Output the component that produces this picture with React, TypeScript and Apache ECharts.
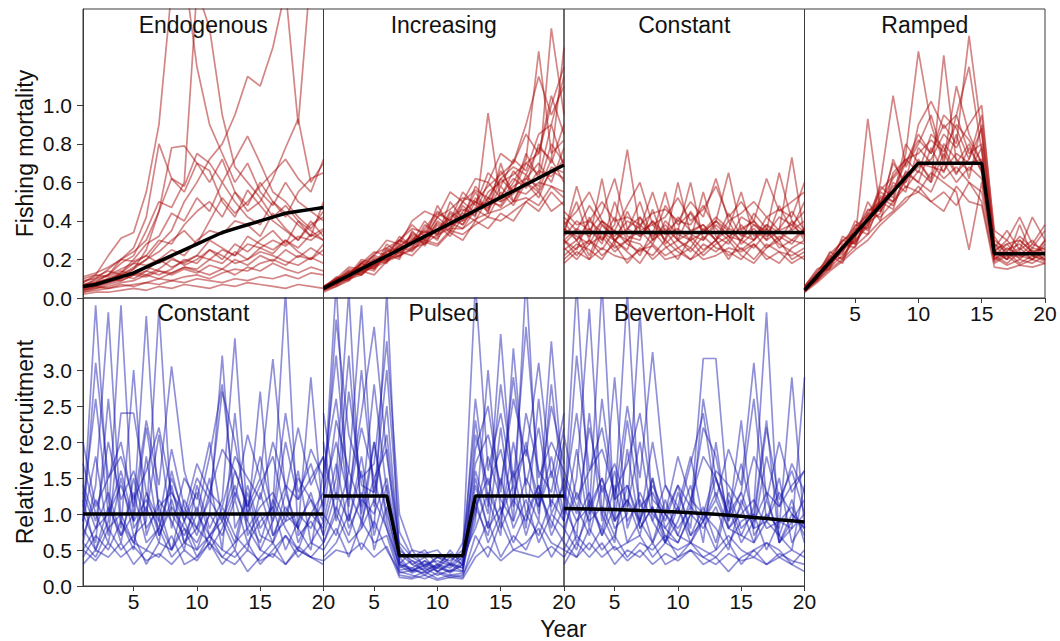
import React, { useEffect, useRef } from "react";
import * as echarts from "echarts";

const years = [1, 2, 3, 4, 5, 6, 7, 8, 9, 10, 11, 12, 13, 14, 15, 16, 17, 18, 19, 20];

const fTicks = [0, 0.2, 0.4, 0.6, 0.8, 1.0];
const rTicks = [0, 0.5, 1.0, 1.5, 2.0, 2.5, 3.0];
const xTicks = [5, 10, 15, 20];

const titlesTop = ["Endogenous", "Increasing", "Constant", "Ramped"];
const titlesBottom = ["Constant", "Pulsed", "Beverton-Holt"];

// ---- Fishing mortality: Endogenous ----
const endoMean = [0.06, 0.07, 0.09, 0.11, 0.13, 0.16, 0.19, 0.22, 0.25, 0.28, 0.31, 0.34, 0.36, 0.38, 0.4, 0.42, 0.44, 0.45, 0.46, 0.47];
const endoLines = [
  [0.08, 0.12, 0.22, 0.31, 0.34, 0.55, 0.9, 1.6, 1.7, 1.2, 0.9, 0.75, 0.6, 0.7, 0.55, 0.48, 0.6, 0.5, 0.45, 0.4],
  [0.05, 0.07, 0.09, 0.12, 0.15, 0.2, 0.28, 0.35, 0.5, 0.6, 0.72, 0.8, 0.95, 1.15, 1.1, 1.3, 1.6, 0.9, 1.7, 1.6],
  [0.06, 0.1, 0.15, 0.2, 0.26, 0.42, 0.8, 0.62, 0.58, 0.75, 0.7, 0.6, 0.72, 0.84, 0.7, 0.55, 0.5, 0.42, 0.36, 0.45],
  [0.04, 0.06, 0.08, 0.1, 0.15, 0.25, 0.45, 0.78, 0.79, 0.7, 0.6, 0.72, 0.55, 0.45, 0.5, 0.62, 0.78, 0.93, 0.6, 0.7],
  [0.07, 0.09, 0.12, 0.18, 0.22, 0.35, 0.5, 0.47, 0.6, 1.6, 1.4, 0.95, 0.68, 0.6, 0.52, 0.42, 0.48, 0.4, 0.35, 0.3],
  [0.03, 0.04, 0.05, 0.06, 0.07, 0.08, 0.1, 0.09, 0.11, 0.12, 0.1, 0.13, 0.15, 0.14, 0.18, 0.2, 0.17, 0.22, 0.2, 0.25],
  [0.09, 0.1, 0.12, 0.15, 0.18, 0.17, 0.2, 0.16, 0.19, 0.22, 0.2, 0.25, 0.22, 0.28, 0.26, 0.3, 0.27, 0.32, 0.3, 0.35],
  [0.05, 0.06, 0.05, 0.07, 0.06, 0.08, 0.07, 0.09, 0.08, 0.1, 0.09, 0.08, 0.1, 0.09, 0.11, 0.1, 0.12, 0.1, 0.13, 0.12],
  [0.06, 0.08, 0.1, 0.13, 0.18, 0.22, 0.3, 0.28, 0.38, 0.45, 0.5, 0.42, 0.55, 0.48, 0.6, 0.5, 0.42, 0.55, 0.62, 0.65],
  [0.11, 0.13, 0.16, 0.2, 0.19, 0.22, 0.18, 0.21, 0.17, 0.2, 0.25, 0.22, 0.18, 0.2, 0.24, 0.22, 0.19, 0.17, 0.21, 0.18],
  [0.04, 0.05, 0.07, 0.09, 0.12, 0.14, 0.2, 0.25, 0.22, 0.3, 0.35, 0.33, 0.4, 0.38, 0.32, 0.44, 0.36, 0.3, 0.38, 0.42],
  [0.02, 0.03, 0.03, 0.04, 0.05, 0.04, 0.06, 0.05, 0.07, 0.06, 0.05, 0.07, 0.06, 0.08, 0.07, 0.06, 0.05, 0.07, 0.06, 0.05],
  [0.08, 0.11, 0.14, 0.12, 0.16, 0.2, 0.24, 0.3, 0.35, 0.28, 0.4, 0.52, 0.44, 0.5, 0.58, 0.65, 0.72, 0.62, 0.55, 0.72],
  [0.05, 0.07, 0.1, 0.12, 0.1, 0.14, 0.12, 0.15, 0.2, 0.18, 0.25, 0.2, 0.28, 0.24, 0.3, 0.35, 0.28, 0.4, 0.32, 0.36],
  [0.1, 0.12, 0.11, 0.14, 0.12, 0.16, 0.14, 0.12, 0.15, 0.13, 0.17, 0.15, 0.12, 0.16, 0.14, 0.18, 0.15, 0.13, 0.16, 0.14],
  [0.06, 0.08, 0.12, 0.2, 0.24, 0.3, 0.45, 0.62, 0.55, 0.7, 0.66, 0.5, 0.42, 0.56, 0.48, 0.4, 0.35, 0.3, 0.4, 0.32],
  [0.04, 0.06, 0.08, 0.1, 0.13, 0.12, 0.15, 0.2, 0.18, 0.22, 0.3, 0.26, 0.22, 0.32, 0.28, 0.25, 0.3, 0.24, 0.2, 0.28],
  [0.03, 0.05, 0.06, 0.08, 0.09, 0.12, 0.1, 0.13, 0.16, 0.14, 0.12, 0.15, 0.2, 0.17, 0.22, 0.19, 0.25, 0.21, 0.26, 0.22],
  [0.07, 0.08, 0.1, 0.09, 0.12, 0.11, 0.14, 0.13, 0.16, 0.15, 0.2, 0.18, 0.24, 0.2, 0.26, 0.23, 0.3, 0.26, 0.33, 0.3],
  [0.05, 0.07, 0.09, 0.13, 0.2, 0.28, 0.32, 0.44, 0.4, 0.52, 0.45, 0.6, 0.5, 0.42, 0.38, 0.5, 0.44, 0.38, 0.32, 0.5],
];

// ---- Fishing mortality: Increasing ----
const incMean = [0.05, 0.084, 0.117, 0.151, 0.185, 0.218, 0.252, 0.286, 0.32, 0.353, 0.387, 0.42, 0.454, 0.488, 0.522, 0.555, 0.589, 0.623, 0.657, 0.69];
const incLines = [
  [0.05, 0.1, 0.09, 0.18, 0.15, 0.26, 0.22, 0.34, 0.3, 0.42, 0.36, 0.5, 0.44, 0.6, 0.52, 0.66, 0.58, 0.8, 0.7, 0.9],
  [0.04, 0.07, 0.13, 0.12, 0.2, 0.18, 0.3, 0.26, 0.38, 0.33, 0.45, 0.4, 0.52, 0.46, 0.62, 0.55, 0.7, 0.64, 1.4, 0.95],
  [0.06, 0.09, 0.11, 0.16, 0.22, 0.2, 0.27, 0.32, 0.28, 0.4, 0.35, 0.48, 0.42, 0.96, 0.5, 0.6, 0.72, 1.28, 0.75, 0.82],
  [0.05, 0.08, 0.14, 0.13, 0.17, 0.25, 0.21, 0.3, 0.35, 0.3, 0.44, 0.38, 0.5, 0.45, 0.58, 0.5, 0.64, 0.56, 0.72, 0.6],
  [0.03, 0.06, 0.1, 0.14, 0.12, 0.19, 0.24, 0.22, 0.29, 0.27, 0.34, 0.3, 0.4, 0.36, 0.44, 0.4, 0.5, 0.45, 0.55, 0.48],
  [0.06, 0.1, 0.12, 0.2, 0.18, 0.24, 0.3, 0.28, 0.36, 0.45, 0.4, 0.55, 0.48, 0.65, 0.58, 0.72, 0.66, 0.85, 0.9, 1.15],
  [0.05, 0.09, 0.15, 0.14, 0.21, 0.19, 0.28, 0.25, 0.33, 0.31, 0.39, 0.36, 0.46, 0.42, 0.55, 0.48, 0.6, 0.55, 0.66, 0.62],
  [0.04, 0.08, 0.1, 0.17, 0.15, 0.23, 0.2, 0.35, 0.27, 0.38, 0.32, 0.42, 0.55, 0.44, 0.7, 0.5, 0.62, 0.58, 0.8, 0.7],
  [0.06, 0.07, 0.12, 0.15, 0.2, 0.22, 0.25, 0.3, 0.34, 0.35, 0.41, 0.38, 0.47, 0.5, 0.48, 0.58, 0.62, 0.7, 0.6, 0.78],
  [0.05, 0.11, 0.1, 0.19, 0.17, 0.21, 0.32, 0.27, 0.31, 0.48, 0.37, 0.44, 0.4, 0.52, 0.47, 0.56, 0.54, 0.6, 0.58, 0.55],
  [0.04, 0.07, 0.11, 0.13, 0.19, 0.2, 0.24, 0.31, 0.29, 0.36, 0.42, 0.46, 0.43, 0.55, 0.6, 0.64, 0.7, 0.75, 1.05, 0.85],
  [0.05, 0.09, 0.13, 0.16, 0.14, 0.24, 0.26, 0.33, 0.3, 0.39, 0.34, 0.45, 0.5, 0.47, 0.53, 0.62, 0.57, 0.66, 0.63, 0.72],
  [0.05, 0.08, 0.12, 0.18, 0.16, 0.28, 0.23, 0.29, 0.4, 0.32, 0.5, 0.41, 0.58, 0.5, 0.66, 0.55, 0.75, 0.62, 0.9, 0.68],
  [0.06, 0.09, 0.14, 0.12, 0.18, 0.21, 0.27, 0.24, 0.32, 0.34, 0.38, 0.4, 0.45, 0.52, 0.5, 0.54, 0.6, 0.52, 0.68, 0.65],
  [0.04, 0.06, 0.09, 0.14, 0.16, 0.19, 0.22, 0.26, 0.28, 0.33, 0.36, 0.36, 0.41, 0.44, 0.46, 0.5, 0.52, 0.48, 0.58, 0.52],
  [0.05, 0.1, 0.16, 0.15, 0.23, 0.26, 0.3, 0.38, 0.32, 0.42, 0.46, 0.52, 0.5, 0.58, 0.64, 0.7, 0.85, 0.75, 1.0, 1.2],
  [0.04, 0.08, 0.12, 0.18, 0.22, 0.3, 0.28, 0.4, 0.45, 0.42, 0.55, 0.5, 0.62, 0.6, 0.75, 0.7, 0.9, 1.15, 0.95, 1.1],
  [0.05, 0.07, 0.1, 0.12, 0.17, 0.2, 0.22, 0.25, 0.3, 0.28, 0.35, 0.33, 0.38, 0.42, 0.4, 0.45, 0.5, 0.55, 0.45, 0.5],
  [0.06, 0.1, 0.13, 0.18, 0.24, 0.22, 0.3, 0.36, 0.34, 0.44, 0.4, 0.5, 0.56, 0.52, 0.62, 0.68, 0.64, 0.78, 0.72, 1.3],
];

// ---- Fishing mortality: Constant ----
const constFMean = [0.34, 0.34, 0.34, 0.34, 0.34, 0.34, 0.34, 0.34, 0.34, 0.34, 0.34, 0.34, 0.34, 0.34, 0.34, 0.34, 0.34, 0.34, 0.34, 0.34];
const constFLines = [
  [0.35, 0.5, 0.3, 0.62, 0.28, 0.45, 0.32, 0.4, 0.3, 0.42, 0.35, 0.38, 0.3, 0.44, 0.32, 0.36, 0.3, 0.48, 0.35, 0.4],
  [0.3, 0.25, 0.42, 0.3, 0.38, 0.77, 0.35, 0.28, 0.4, 0.33, 0.3, 0.55, 0.32, 0.28, 0.38, 0.3, 0.42, 0.35, 0.73, 0.32],
  [0.28, 0.35, 0.22, 0.38, 0.3, 0.25, 0.42, 0.33, 0.55, 0.3, 0.26, 0.36, 0.3, 0.4, 0.28, 0.34, 0.26, 0.32, 0.28, 0.36],
  [0.4, 0.3, 0.36, 0.28, 0.5, 0.32, 0.3, 0.46, 0.28, 0.35, 0.6, 0.3, 0.38, 0.32, 0.3, 0.44, 0.36, 0.3, 0.4, 0.3],
  [0.22, 0.28, 0.25, 0.2, 0.3, 0.24, 0.18, 0.28, 0.22, 0.26, 0.2, 0.24, 0.3, 0.22, 0.26, 0.2, 0.28, 0.24, 0.22, 0.26],
  [0.38, 0.45, 0.55, 0.4, 0.35, 0.48, 0.6, 0.38, 0.42, 0.52, 0.4, 0.46, 0.58, 0.42, 0.5, 0.4, 0.62, 0.45, 0.5, 0.55],
  [0.25, 0.3, 0.2, 0.34, 0.26, 0.3, 0.22, 0.35, 0.27, 0.2, 0.32, 0.25, 0.3, 0.2, 0.3, 0.26, 0.34, 0.28, 0.24, 0.2],
  [0.32, 0.4, 0.35, 0.44, 0.62, 0.36, 0.42, 0.3, 0.48, 0.38, 0.44, 0.34, 0.4, 0.65, 0.35, 0.4, 0.33, 0.42, 0.38, 0.45],
  [0.3, 0.22, 0.3, 0.25, 0.35, 0.28, 0.24, 0.3, 0.35, 0.26, 0.3, 0.22, 0.28, 0.32, 0.25, 0.3, 0.36, 0.26, 0.3, 0.28],
  [0.42, 0.35, 0.48, 0.38, 0.32, 0.4, 0.36, 0.55, 0.34, 0.4, 0.38, 0.48, 0.36, 0.3, 0.42, 0.38, 0.35, 0.65, 0.4, 0.34],
  [0.2, 0.26, 0.3, 0.22, 0.28, 0.18, 0.26, 0.22, 0.3, 0.24, 0.2, 0.28, 0.24, 0.3, 0.22, 0.18, 0.26, 0.3, 0.2, 0.24],
  [0.36, 0.32, 0.28, 0.4, 0.3, 0.35, 0.5, 0.3, 0.38, 0.3, 0.45, 0.35, 0.42, 0.36, 0.55, 0.32, 0.38, 0.3, 0.36, 0.5],
  [0.33, 0.58, 0.36, 0.3, 0.42, 0.3, 0.35, 0.38, 0.3, 0.6, 0.33, 0.3, 0.4, 0.35, 0.3, 0.38, 0.32, 0.36, 0.45, 0.35],
  [0.26, 0.2, 0.28, 0.32, 0.24, 0.3, 0.28, 0.2, 0.26, 0.3, 0.24, 0.32, 0.26, 0.24, 0.2, 0.28, 0.22, 0.18, 0.26, 0.3],
  [0.45, 0.38, 0.4, 0.5, 0.4, 0.42, 0.38, 0.44, 0.46, 0.4, 0.5, 0.42, 0.62, 0.4, 0.44, 0.5, 0.42, 0.46, 0.42, 0.6],
  [0.18, 0.24, 0.2, 0.26, 0.22, 0.2, 0.25, 0.27, 0.2, 0.22, 0.26, 0.2, 0.22, 0.26, 0.24, 0.28, 0.2, 0.24, 0.18, 0.22],
  [0.3, 0.36, 0.32, 0.4, 0.34, 0.3, 0.38, 0.32, 0.36, 0.3, 0.34, 0.38, 0.3, 0.36, 0.33, 0.3, 0.38, 0.34, 0.3, 0.36],
  [0.36, 0.3, 0.4, 0.34, 0.3, 0.36, 0.32, 0.4, 0.33, 0.36, 0.3, 0.34, 0.4, 0.32, 0.36, 0.4, 0.3, 0.35, 0.38, 0.32],
];

// ---- Fishing mortality: Ramped ----
const rampMean = [0.04, 0.113, 0.187, 0.26, 0.333, 0.407, 0.48, 0.553, 0.627, 0.7, 0.7, 0.7, 0.7, 0.7, 0.7, 0.23, 0.23, 0.23, 0.23, 0.23];
const rampLines = [
  [0.05, 0.12, 0.2, 0.3, 0.28, 0.42, 0.5, 0.62, 0.7, 0.85, 0.75, 0.9, 0.8, 1.36, 0.85, 0.3, 0.25, 0.28, 0.22, 0.3],
  [0.04, 0.1, 0.22, 0.18, 0.35, 0.4, 0.55, 0.5, 0.75, 1.28, 0.9, 0.7, 0.95, 0.75, 0.8, 0.25, 0.2, 0.3, 0.24, 0.2],
  [0.06, 0.15, 0.18, 0.25, 0.4, 0.35, 0.48, 0.7, 0.6, 0.72, 0.6, 1.26, 0.7, 0.8, 0.65, 0.22, 0.28, 0.2, 0.26, 0.24],
  [0.03, 0.09, 0.16, 0.22, 0.3, 0.93, 0.45, 0.55, 0.65, 0.6, 0.78, 0.65, 0.85, 0.62, 0.9, 0.28, 0.2, 0.25, 0.3, 0.22],
  [0.05, 0.11, 0.24, 0.2, 0.32, 0.38, 0.6, 1.05, 0.68, 0.8, 0.95, 0.72, 1.1, 0.85, 0.7, 0.24, 0.3, 0.22, 0.2, 0.28],
  [0.04, 0.13, 0.15, 0.28, 0.26, 0.44, 0.42, 0.5, 0.58, 0.55, 0.65, 0.6, 0.55, 0.25, 0.6, 0.2, 0.24, 0.18, 0.22, 0.2],
  [0.05, 0.1, 0.19, 0.24, 0.36, 0.33, 0.52, 0.48, 0.62, 0.68, 0.72, 0.85, 0.78, 0.9, 1.0, 0.32, 0.22, 0.26, 0.2, 0.24],
  [0.06, 0.14, 0.21, 0.3, 0.34, 0.46, 0.45, 0.6, 0.55, 0.78, 0.7, 0.62, 0.68, 0.6, 0.55, 0.2, 0.26, 0.22, 0.28, 0.25],
  [0.03, 0.08, 0.14, 0.19, 0.25, 0.3, 0.38, 0.44, 0.5, 0.58, 0.5, 0.55, 0.48, 0.6, 0.5, 0.18, 0.22, 0.17, 0.2, 0.18],
  [0.05, 0.12, 0.17, 0.26, 0.31, 0.5, 0.4, 0.65, 0.72, 0.65, 0.85, 0.78, 0.65, 0.72, 0.88, 0.26, 0.35, 0.25, 0.42, 0.3],
  [0.04, 0.11, 0.2, 0.23, 0.38, 0.36, 0.58, 0.52, 0.8, 0.7, 0.62, 0.8, 0.72, 0.66, 0.78, 0.22, 0.18, 0.24, 0.2, 0.3],
  [0.05, 0.09, 0.18, 0.27, 0.29, 0.4, 0.47, 0.58, 0.6, 0.9, 1.02, 0.88, 0.95, 1.2, 0.76, 0.28, 0.24, 0.32, 0.26, 0.35],
  [0.04, 0.1, 0.2, 0.21, 0.33, 0.45, 0.5, 0.46, 0.66, 0.6, 0.55, 0.7, 0.6, 0.68, 0.62, 0.21, 0.17, 0.2, 0.18, 0.22],
  [0.06, 0.13, 0.23, 0.29, 0.37, 0.43, 0.56, 0.63, 0.72, 0.75, 0.82, 0.76, 0.9, 0.82, 0.7, 0.25, 0.28, 0.3, 0.24, 0.26],
  [0.05, 0.12, 0.16, 0.32, 0.28, 0.39, 0.44, 0.72, 0.57, 0.66, 0.6, 0.75, 0.64, 0.78, 0.66, 0.24, 0.2, 0.38, 0.22, 0.19],
  [0.04, 0.1, 0.17, 0.25, 0.3, 0.37, 0.53, 0.5, 0.62, 0.7, 0.68, 0.66, 0.75, 0.7, 0.72, 0.19, 0.23, 0.21, 0.25, 0.2],
  [0.05, 0.11, 0.2, 0.27, 0.35, 0.42, 0.5, 0.56, 0.7, 0.82, 0.75, 0.95, 0.88, 0.72, 0.95, 0.35, 0.3, 0.42, 0.28, 0.38],
  [0.04, 0.09, 0.15, 0.2, 0.27, 0.33, 0.4, 0.45, 0.52, 0.55, 0.5, 0.45, 0.58, 0.5, 0.48, 0.16, 0.15, 0.17, 0.16, 0.18],
];

// ---- Relative recruitment: Constant ----
const constRMean = [1, 1, 1, 1, 1, 1, 1, 1, 1, 1, 1, 1, 1, 1, 1, 1, 1, 1, 1, 1];
const constRLines = [
  [0.9, 3.9, 1.2, 0.6, 1.5, 0.8, 1.1, 0.5, 0.9, 1.3, 0.7, 1.0, 0.6, 1.4, 0.8, 1.1, 0.5, 0.9, 1.2, 0.7],
  [0.6, 1.4, 3.8, 0.9, 0.5, 1.8, 0.7, 1.2, 0.6, 0.8, 1.5, 0.5, 2.4, 0.7, 1.0, 0.6, 1.3, 0.8, 0.5, 1.6],
  [1.2, 0.5, 0.9, 3.9, 0.8, 1.1, 0.6, 1.6, 0.9, 0.5, 1.0, 3.2, 0.8, 1.2, 0.5, 0.9, 1.4, 0.6, 1.0, 0.8],
  [0.5, 0.8, 1.3, 0.7, 1.0, 3.75, 0.9, 0.5, 1.2, 0.8, 0.6, 1.1, 0.7, 0.5, 1.3, 0.7, 0.9, 1.6, 0.6, 0.9],
  [1.7, 1.0, 0.6, 1.5, 0.7, 0.9, 3.85, 1.0, 0.7, 1.1, 0.5, 0.8, 1.3, 0.9, 0.6, 1.2, 0.8, 0.5, 1.0, 1.3],
  [0.4, 0.7, 0.5, 0.9, 0.6, 0.5, 0.8, 0.4, 0.6, 0.5, 0.7, 0.4, 0.6, 0.8, 0.5, 0.4, 0.7, 0.5, 0.4, 0.6],
  [0.8, 3.1, 1.5, 2.0, 1.1, 2.3, 1.4, 3.05, 1.6, 1.0, 1.8, 2.8, 1.2, 2.1, 1.5, 3.15, 1.3, 2.2, 1.4, 1.8],
  [1.0, 0.6, 2.6, 0.8, 3.0, 0.7, 1.2, 0.9, 0.5, 1.4, 0.8, 1.2, 3.44, 0.9, 2.7, 0.7, 1.1, 0.8, 2.9, 0.9],
  [0.7, 1.2, 0.8, 1.0, 0.6, 1.3, 0.7, 1.1, 0.8, 0.6, 1.0, 0.7, 1.2, 0.6, 0.9, 1.1, 4.1, 0.7, 0.9, 0.6],
  [1.4, 0.9, 2.0, 1.2, 1.6, 1.0, 2.1, 0.8, 1.5, 1.2, 2.0, 0.9, 1.6, 1.1, 1.8, 1.0, 2.4, 1.3, 1.7, 1.1],
  [0.3, 0.5, 0.4, 0.6, 0.3, 0.5, 0.4, 0.7, 0.3, 0.4, 0.6, 0.3, 0.5, 0.2, 0.4, 0.6, 0.3, 0.5, 0.4, 0.3],
  [0.9, 1.8, 0.7, 2.4, 2.4, 1.3, 0.9, 1.9, 1.1, 0.7, 1.3, 1.9, 1.6, 1.1, 1.5, 0.9, 2.0, 1.2, 1.5, 1.8],
  [0.6, 0.4, 0.8, 0.5, 0.7, 0.3, 0.6, 0.5, 0.8, 0.4, 0.7, 0.5, 0.4, 0.6, 0.3, 0.5, 0.7, 0.4, 0.6, 0.5],
  [1.1, 2.6, 1.0, 1.4, 0.9, 2.2, 1.1, 1.3, 0.9, 1.5, 1.2, 2.7, 2.0, 1.0, 1.4, 1.8, 1.0, 1.5, 1.2, 0.9],
  [0.8, 0.5, 1.1, 0.7, 1.3, 0.6, 0.8, 1.4, 0.6, 1.0, 0.7, 0.9, 0.5, 1.3, 0.7, 0.6, 1.0, 0.8, 1.3, 0.7],
  [2.0, 1.1, 1.5, 1.8, 1.2, 1.6, 2.2, 1.3, 1.0, 1.7, 1.3, 1.1, 1.8, 1.5, 1.2, 2.0, 1.4, 1.2, 1.9, 1.5],
  [0.5, 0.35, 0.6, 0.4, 0.55, 0.35, 0.45, 0.3, 0.5, 0.35, 0.6, 0.4, 0.3, 0.5, 0.35, 0.45, 0.3, 0.55, 0.4, 0.35],
  [1.3, 0.8, 1.0, 1.6, 0.9, 1.2, 0.8, 1.5, 1.0, 0.8, 1.2, 0.9, 1.4, 0.8, 1.1, 1.3, 0.9, 1.0, 0.8, 1.2],
];

// ---- Relative recruitment: Pulsed ----
const pulsedMean = [1.25, 1.25, 1.25, 1.25, 1.25, 1.25, 0.42, 0.42, 0.42, 0.42, 0.42, 0.42, 1.25, 1.25, 1.25, 1.25, 1.25, 1.25, 1.25, 1.25];
const pulsedLines = [
  [1.2, 4.2, 0.9, 1.8, 0.7, 1.4, 0.3, 0.25, 0.35, 0.2, 0.3, 0.25, 1.5, 0.8, 2.2, 0.9, 4.3, 1.1, 1.6, 0.9],
  [0.8, 1.5, 4.1, 0.8, 2.0, 1.0, 0.35, 0.2, 0.3, 0.25, 0.4, 0.3, 0.9, 3.0, 1.0, 1.6, 0.8, 2.6, 1.0, 1.4],
  [2.0, 0.9, 1.6, 3.9, 1.1, 2.5, 0.45, 0.3, 0.22, 0.3, 0.2, 0.35, 2.6, 1.2, 0.7, 3.3, 1.3, 0.9, 2.8, 1.2],
  [0.6, 1.1, 0.7, 1.3, 0.8, 4.1, 0.28, 0.18, 0.25, 0.15, 0.22, 0.2, 1.1, 0.7, 1.5, 0.8, 1.2, 0.6, 1.0, 0.8],
  [1.5, 3.2, 1.3, 2.4, 3.6, 1.8, 0.6, 0.4, 0.3, 0.35, 0.28, 0.45, 4.2, 1.6, 2.4, 1.4, 3.6, 1.5, 2.0, 1.6],
  [0.5, 0.8, 0.4, 0.9, 0.6, 0.7, 0.15, 0.12, 0.2, 0.1, 0.15, 0.12, 0.7, 0.4, 0.9, 0.5, 0.6, 0.8, 0.4, 0.7],
  [1.0, 2.3, 1.6, 1.1, 2.8, 1.3, 0.55, 0.3, 0.4, 0.2, 0.32, 0.25, 1.9, 2.5, 1.3, 2.9, 1.4, 2.2, 1.1, 2.0],
  [0.7, 1.3, 0.9, 1.6, 0.5, 1.1, 0.22, 0.25, 0.15, 0.28, 0.18, 0.3, 1.2, 0.6, 1.0, 1.4, 0.7, 1.3, 0.9, 0.6],
  [1.8, 1.0, 2.7, 1.4, 1.3, 3.0, 0.75, 0.4, 0.5, 0.3, 0.45, 0.35, 1.6, 1.0, 3.5, 1.2, 2.0, 1.0, 3.4, 1.3],
  [0.4, 0.6, 1.0, 0.5, 0.9, 0.5, 0.2, 0.15, 0.1, 0.18, 0.12, 0.15, 0.5, 0.9, 0.4, 0.7, 0.5, 0.9, 0.6, 0.5],
  [1.3, 2.0, 1.2, 2.2, 1.5, 1.9, 0.3, 0.5, 0.25, 0.4, 0.3, 0.2, 2.1, 1.4, 1.9, 1.1, 2.4, 1.6, 1.3, 2.2],
  [0.9, 1.7, 0.8, 1.2, 1.0, 1.5, 0.4, 0.2, 0.35, 0.25, 0.5, 0.28, 1.0, 1.8, 1.2, 0.9, 1.5, 1.1, 1.8, 1.0],
  [2.4, 1.2, 3.2, 1.0, 2.0, 0.9, 0.25, 0.35, 0.2, 0.3, 0.25, 0.4, 0.8, 1.3, 0.9, 2.0, 1.0, 1.4, 0.8, 1.5],
  [0.6, 1.0, 0.6, 0.8, 1.2, 0.8, 0.18, 0.22, 0.28, 0.2, 0.15, 0.18, 1.4, 0.8, 1.1, 0.6, 1.0, 0.7, 1.2, 0.9],
  [1.1, 3.7, 2.1, 1.5, 1.7, 3.4, 1.0, 0.5, 0.45, 0.5, 0.3, 0.6, 1.7, 2.1, 1.4, 2.6, 1.8, 3.1, 1.5, 2.4],
  [0.35, 0.5, 0.45, 0.6, 0.4, 0.55, 0.12, 0.1, 0.15, 0.08, 0.12, 0.1, 0.4, 0.55, 0.35, 0.5, 0.45, 0.4, 0.55, 0.4],
  [1.0, 0.7, 1.3, 0.9, 1.5, 0.8, 0.3, 0.22, 0.18, 0.25, 0.2, 0.3, 1.1, 1.5, 0.8, 1.2, 0.9, 1.4, 0.7, 1.1],
  [1.6, 2.6, 1.1, 3.0, 1.3, 2.1, 0.5, 0.35, 0.28, 0.4, 0.35, 0.5, 2.3, 1.1, 2.8, 1.5, 1.9, 1.2, 2.5, 1.7],
];

// ---- Relative recruitment: Beverton-Holt ----
const bhMean = [1.075, 1.073, 1.07, 1.066, 1.062, 1.057, 1.05, 1.044, 1.036, 1.028, 1.018, 1.007, 0.995, 0.982, 0.968, 0.953, 0.937, 0.92, 0.905, 0.89];
const bhLines = [
  [1.0, 4.2, 1.1, 0.8, 1.6, 0.9, 1.2, 0.6, 1.0, 1.4, 0.7, 1.1, 0.6, 1.3, 0.8, 1.0, 0.5, 0.9, 1.1, 0.7],
  [0.7, 1.5, 3.85, 1.0, 0.6, 1.9, 0.8, 1.1, 0.6, 0.9, 1.4, 0.6, 2.0, 0.8, 1.1, 0.6, 1.2, 0.7, 0.5, 1.4],
  [1.3, 0.6, 1.0, 4.2, 0.9, 1.2, 0.7, 1.5, 0.8, 0.6, 1.0, 3.16, 3.16, 1.1, 0.6, 0.9, 1.3, 0.6, 1.0, 0.8],
  [0.5, 0.9, 1.3, 0.7, 1.1, 4.1, 0.9, 0.6, 1.2, 0.7, 0.6, 1.0, 0.8, 0.5, 1.2, 0.8, 0.9, 1.5, 0.6, 0.9],
  [1.6, 1.1, 0.7, 1.4, 0.8, 1.0, 3.8, 1.0, 0.8, 1.1, 0.6, 0.9, 1.2, 0.8, 0.7, 1.1, 3.8, 0.6, 0.9, 1.2],
  [0.4, 0.7, 0.5, 0.8, 0.5, 0.6, 0.7, 0.4, 0.6, 0.5, 0.6, 0.4, 0.5, 0.7, 0.5, 0.4, 0.6, 0.5, 0.3, 0.5],
  [0.9, 3.2, 1.6, 2.2, 1.2, 2.5, 1.5, 3.25, 1.4, 1.0, 1.7, 2.4, 1.2, 1.9, 1.4, 3.1, 1.2, 2.0, 1.3, 1.6],
  [1.1, 0.7, 2.4, 0.9, 2.9, 0.8, 1.3, 0.9, 0.6, 1.3, 0.8, 2.6, 1.5, 0.9, 2.3, 0.7, 1.0, 0.8, 2.9, 0.8],
  [0.8, 1.3, 0.9, 1.1, 0.7, 1.4, 0.8, 1.1, 0.7, 0.6, 1.0, 0.8, 1.1, 0.6, 0.9, 1.0, 2.3, 0.6, 0.8, 2.9],
  [1.5, 1.0, 2.2, 1.3, 1.7, 1.1, 2.0, 0.9, 1.4, 1.1, 1.8, 0.9, 1.5, 1.0, 1.7, 0.9, 2.2, 1.2, 1.6, 1.0],
  [0.3, 0.6, 0.4, 0.6, 0.3, 0.5, 0.4, 0.6, 0.3, 0.4, 0.5, 0.3, 0.4, 0.2, 0.4, 0.5, 0.3, 0.4, 0.3, 0.2],
  [0.9, 1.9, 0.8, 2.6, 1.2, 1.4, 0.9, 2.0, 1.0, 0.7, 1.2, 1.8, 1.5, 1.0, 1.3, 0.8, 1.8, 1.1, 1.4, 1.6],
  [0.6, 0.4, 0.8, 0.5, 0.7, 0.4, 0.6, 0.5, 0.7, 0.4, 0.6, 0.5, 0.4, 0.6, 0.3, 0.5, 0.6, 0.4, 0.5, 0.4],
  [1.2, 2.4, 1.0, 1.5, 0.9, 2.3, 1.1, 1.3, 0.9, 1.4, 1.1, 2.2, 1.8, 0.9, 1.3, 2.6, 0.9, 1.3, 1.0, 0.8],
  [0.8, 0.5, 1.2, 0.7, 1.4, 0.6, 0.9, 1.5, 0.6, 1.1, 0.7, 0.9, 0.5, 1.2, 0.7, 0.6, 0.9, 0.7, 1.2, 0.6],
  [2.1, 1.2, 1.6, 1.9, 1.3, 1.7, 2.4, 1.2, 1.0, 1.8, 1.2, 1.0, 1.6, 1.4, 1.1, 1.8, 1.3, 1.1, 1.7, 1.3],
  [0.5, 0.4, 0.6, 0.4, 0.55, 0.35, 0.5, 0.3, 0.45, 0.35, 0.5, 0.4, 0.3, 0.45, 0.35, 0.4, 0.3, 0.45, 0.35, 0.3],
  [1.3, 0.9, 1.1, 1.5, 0.9, 1.2, 0.9, 1.4, 1.0, 0.8, 1.1, 0.9, 1.3, 0.8, 1.0, 1.2, 0.8, 0.9, 0.8, 1.0],
];

const FONT = 'Arial, "Liberation Sans", Helvetica, sans-serif';
const RED = "rgba(170, 12, 12, 0.5)";
const BLUE = "rgba(24, 24, 175, 0.48)";

export default function App() {
  const ref = useRef<HTMLDivElement>(null);

  useEffect(() => {
    if (!ref.current) return;
    const chart = echarts.init(ref.current, null, { renderer: "svg" });

    const panelW = 240.5;
    const lefts = [83, 323.5, 564, 804.5];
    const topRow = { top: 9, height: 289 };
    const botRow = { top: 298, height: 288 };

    const panels = [
      { lines: endoLines, mean: endoMean, row: 0, col: 0, color: RED },
      { lines: incLines, mean: incMean, row: 0, col: 1, color: RED },
      { lines: constFLines, mean: constFMean, row: 0, col: 2, color: RED },
      { lines: rampLines, mean: rampMean, row: 0, col: 3, color: RED },
      { lines: constRLines, mean: constRMean, row: 1, col: 0, color: BLUE },
      { lines: pulsedLines, mean: pulsedMean, row: 1, col: 1, color: BLUE },
      { lines: bhLines, mean: bhMean, row: 1, col: 2, color: BLUE },
    ];

    const grids: any[] = [];
    const xAxes: any[] = [];
    const yAxes: any[] = [];
    const series: any[] = [];

    panels.forEach((p, i) => {
      const r = p.row === 0 ? topRow : botRow;
      grids.push({
        left: lefts[p.col],
        top: r.top,
        width: panelW,
        height: r.height,
        show: true,
        borderColor: "#3a3a3a",
        borderWidth: 1,
        backgroundColor: "transparent",
        containLabel: false,
      });
      const showX = p.row === 1 || p.col === 3;
      xAxes.push({
        gridIndex: i,
        type: "value",
        min: 1,
        max: 20,
        axisLine: { show: showX, lineStyle: { color: "#3a3a3a", width: 1 } },
        axisTick: {
          show: showX,
          length: 5,
          customValues: xTicks,
          lineStyle: { color: "#3a3a3a" },
        },
        axisLabel: {
          show: showX,
          customValues: xTicks,
          fontSize: 21,
          color: "#111",
          fontFamily: FONT,
          margin: 5,
          showMinLabel: true,
          showMaxLabel: true,
        },
        splitLine: { show: false },
      });
      const showY = p.col === 0;
      const ticks = p.row === 0 ? fTicks : rTicks;
      yAxes.push({
        gridIndex: i,
        type: "value",
        min: 0,
        max: p.row === 0 ? 1.5 : 4,
        axisLine: { show: showY, lineStyle: { color: "#3a3a3a", width: 1 } },
        axisTick: {
          show: showY,
          length: 6,
          customValues: ticks,
          lineStyle: { color: "#3a3a3a" },
        },
        axisLabel: {
          show: showY,
          customValues: ticks,
          formatter: (v: number) => v.toFixed(1),
          fontSize: 21,
          color: "#111",
          fontFamily: FONT,
          margin: 11,
        },
        splitLine: { show: false },
      });
      p.lines.forEach((ln) => {
        series.push({
          type: "line",
          xAxisIndex: i,
          yAxisIndex: i,
          data: years.map((y, k) => [y, ln[k]]),
          showSymbol: false,
          symbol: "none",
          silent: true,
          clip: true,
          lineStyle: { color: p.color, width: 1.7 },
          z: 2,
        });
      });
      series.push({
        type: "line",
        xAxisIndex: i,
        yAxisIndex: i,
        data: years.map((y, k) => [y, p.mean[k]]),
        showSymbol: false,
        symbol: "none",
        silent: true,
        clip: true,
        lineStyle: { color: "#000", width: 3.5 },
        z: 5,
      });
    });

    const titleStyle = (text: string, x: number, y: number) => ({
      type: "text",
      x,
      y,
      z: 100,
      style: {
        text,
        fontSize: 23,
        fontFamily: FONT,
        fill: "#111",
        textAlign: "center",
        textVerticalAlign: "middle",
      },
    });

    const graphics: any[] = [];
    titlesTop.forEach((t, c) => graphics.push(titleStyle(t, lefts[c] + panelW / 2, 25)));
    titlesBottom.forEach((t, c) => graphics.push(titleStyle(t, lefts[c] + panelW / 2, 313)));
    graphics.push({
      type: "text",
      x: 25,
      y: 153.5,
      rotation: Math.PI / 2,
      style: {
        text: "Fishing mortality",
        fontSize: 23,
        fontFamily: FONT,
        fill: "#111",
        textAlign: "center",
        textVerticalAlign: "middle",
      },
    });
    graphics.push({
      type: "text",
      x: 25,
      y: 442,
      rotation: Math.PI / 2,
      style: {
        text: "Relative recruitment",
        fontSize: 23,
        fontFamily: FONT,
        fill: "#111",
        textAlign: "center",
        textVerticalAlign: "middle",
      },
    });
    graphics.push({
      type: "text",
      x: 563.5,
      y: 629,
      style: {
        text: "Year",
        fontSize: 23,
        fontFamily: FONT,
        fill: "#111",
        textAlign: "center",
        textVerticalAlign: "middle",
      },
    });

    chart.setOption({
      animation: false,
      backgroundColor: "#fff",
      grid: grids,
      xAxis: xAxes,
      yAxis: yAxes,
      series,
      graphic: graphics,
    });

    return () => chart.dispose();
  }, []);

  return (
    <div
      ref={ref}
      style={{ position: "absolute", left: 0, top: 0, width: 1060, height: 641 }}
    />
  );
}
